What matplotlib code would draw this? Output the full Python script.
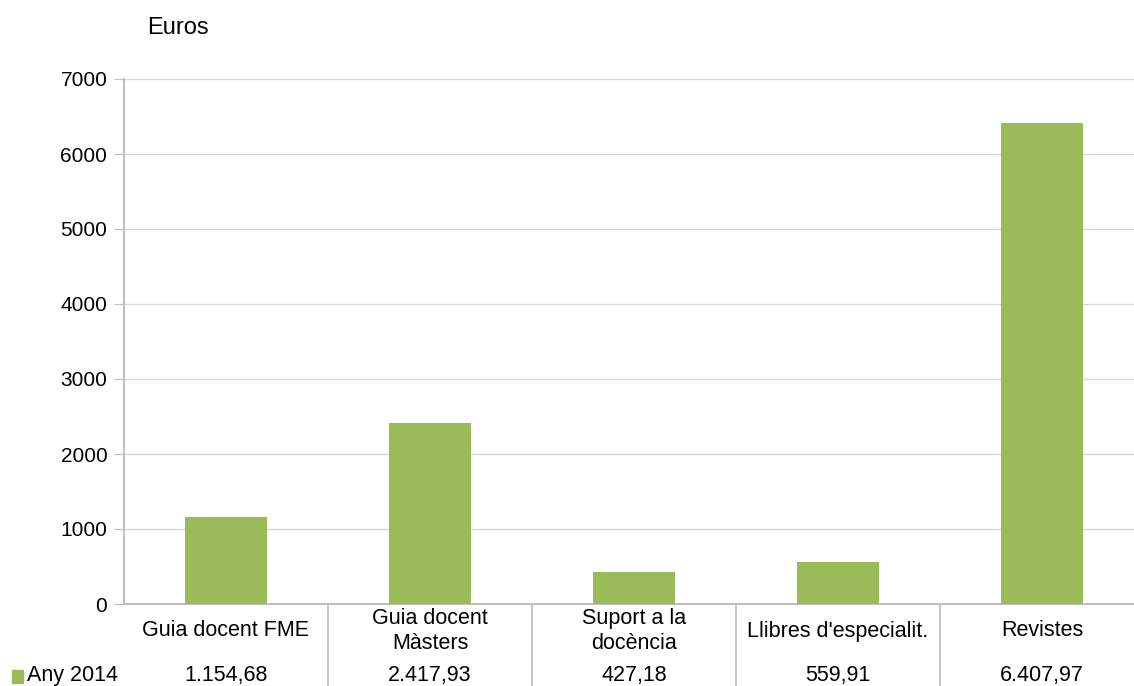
import matplotlib.pyplot as plt
from matplotlib.transforms import blended_transform_factory
from matplotlib.patches import Rectangle

plt.rcParams['font.family'] = ['Liberation Sans', 'DejaVu Sans']

categories = ["Guia docent FME", "Guia docent\nMàsters", "Suport a la\ndocència",
              "Llibres d'especialit.", "Revistes"]
values = [1154.68, 2417.93, 427.18, 559.91, 6407.97]
series_name = "Any 2014"
yticks = [0, 1000, 2000, 3000, 4000, 5000, 6000, 7000]

green = '#9BBB59'
grid_c = '#D9D9D9'
axis_c = '#BFBFBF'


def fmt(v):
    s = f"{v:,.2f}"
    return s.replace(',', 'X').replace('.', ',').replace('X', '.')


W, H = 1134, 686
fig = plt.figure(figsize=(W / 100, H / 100), dpi=100)
ax = fig.add_axes([124 / W, (H - 604) / H, 1020 / W, (604 - 79) / H])

x = list(range(len(categories)))
ax.bar(x, values, width=0.4, color=green, zorder=3)
ax.set_xlim(-0.5, len(categories) - 0.5)
ax.set_ylim(0, 7000)
ax.set_yticks(yticks)
ax.set_xticks([])
ax.tick_params(axis='y', length=7, color=axis_c, labelsize=15, pad=5)
ax.grid(axis='y', color=grid_c, linewidth=1, zorder=0)
for side in ['top', 'right']:
    ax.spines[side].set_visible(False)
ax.spines['left'].set_color(axis_c)
ax.spines['bottom'].set_color(axis_c)
ax.spines['left'].set_linewidth(1.5)
ax.spines['bottom'].set_linewidth(1.5)

fig.text(147 / W, 1 - 28 / H, "Euros", fontsize=17, va='center', ha='left')

# data table below the axis
tr = blended_transform_factory(ax.transData, fig.transFigure)
for i, (c, v) in enumerate(zip(categories, values)):
    ax.text(i, 1 - 631 / H, c, transform=tr, ha='center', va='center',
            fontsize=15.5, linespacing=1.25, clip_on=False)
    ax.text(i, 1 - 676 / H, fmt(v), transform=tr, ha='center', va='center',
            fontsize=15.5, clip_on=False)
for b in [0.5, 1.5, 2.5, 3.5]:
    ax.plot([b, b], [0, 1 - 604 / H], transform=tr, color=axis_c,
            linewidth=1.2, clip_on=False)

fig.patches.append(Rectangle((12 / W, 1 - 683 / H), 11 / W, 13 / H,
                             transform=fig.transFigure, color=green))
fig.text(27 / W, 1 - 676 / H, series_name, fontsize=15.5, va='center', ha='left')

fig.savefig('out.png', dpi=100)
